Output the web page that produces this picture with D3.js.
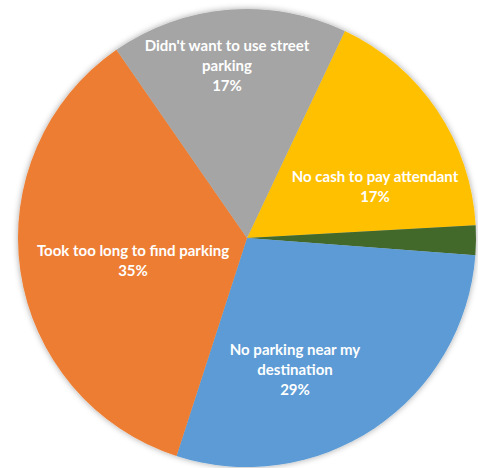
<!DOCTYPE html>
<html>
<head>
<meta charset="utf-8">
<script src="https://cdn.jsdelivr.net/npm/d3@7"></script>
<style>
  body { margin: 0; background: #fff; }
  svg { display: block; }
</style>
</head>
<body>
<svg id="chart" width="478" height="468"></svg>
<script>
// reasons for not parking, clockwise from the yellow slice
var categories = ["No cash to pay attendant", "Other", "No parking near my destination",
                  "Took too long to find parking", "Didn't want to use street parking"];
var values = [17.1, 2.1, 28.8, 35.4, 16.7];
var labelText = ["17%", "", "29%", "35%", "17%"];
var colors = ["#FFC000", "#43682B", "#5B9BD5", "#ED7D31", "#A5A5A5"];

// label lines, as Excel wrapped them
var labelLines = [
    ["No cash to pay attendant"],
    [],
    ["No parking near my", "destination"],
    ["Took too long to find parking"],
    ["Didn't want to use street", "parking"]
];
// label centre offsets from the pie centre (layout only)
var labelOffset = [[128, -52], [0, 0], [48, 131], [-114, 22], [-20, -173]];

var cx = 247, cy = 238, radius = 229;
var startDeg = 25.3;

var svg = d3.select("#chart");

var defs = svg.append("defs");
var filter = defs.append("filter").attr("id", "shadow")
    .attr("x", "-10%").attr("y", "-10%").attr("width", "120%").attr("height", "120%");
filter.append("feDropShadow")
    .attr("dx", 0).attr("dy", 0)
    .attr("stdDeviation", 3)
    .attr("flood-color", "#000")
    .attr("flood-opacity", 0.35);

var g = svg.append("g").attr("transform", "translate(" + cx + "," + cy + ")");

var pie = d3.pie()
    .sort(null)
    .value(function (d) { return d; })
    .startAngle(startDeg * Math.PI / 180)
    .endAngle(startDeg * Math.PI / 180 + 2 * Math.PI);

var arc = d3.arc().innerRadius(0).outerRadius(radius);

var arcs = pie(values);

var slices = g.append("g").attr("filter", "url(#shadow)");
slices.selectAll("path")
    .data(arcs)
    .enter().append("path")
    .attr("d", arc)
    .attr("fill", function (d, i) { return colors[i]; });

var labels = g.append("g")
    .attr("font-family", "Lato, 'Open Sans', sans-serif")
    .attr("font-weight", "bold")
    .attr("font-size", "15px")
    .attr("fill", "#fff")
    .attr("text-anchor", "middle");

arcs.forEach(function (d, i) {
    if (!labelText[i]) return;
    var lines = labelLines[i].concat([labelText[i]]);
    var off = labelOffset[i];
    var lineH = 20;
    var y0 = off[1] - (lines.length - 1) * lineH / 2;
    var t = labels.append("text")
        .attr("x", off[0])
        .attr("y", y0)
        .attr("dominant-baseline", "central");
    lines.forEach(function (line, j) {
        t.append("tspan")
            .attr("x", off[0])
            .attr("y", y0 + j * lineH)
            .text(line);
    });
});
</script>
</body>
</html>
